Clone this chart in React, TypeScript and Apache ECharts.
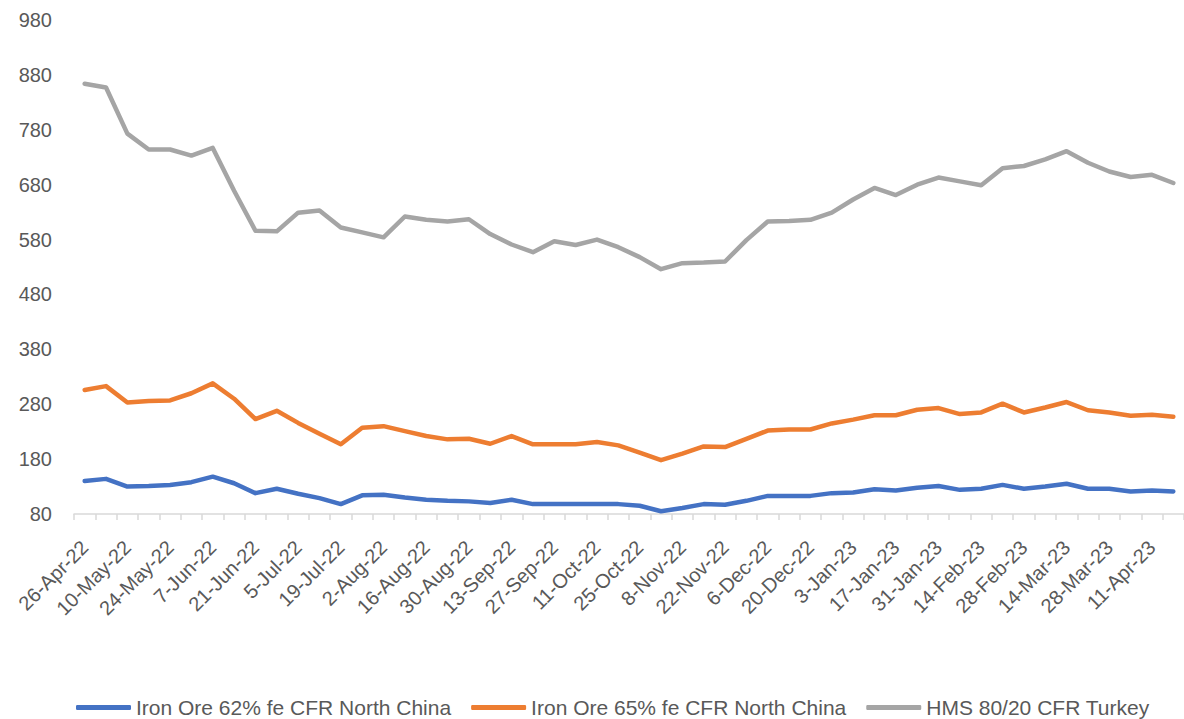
import React, { useEffect, useRef } from "react";
import * as echarts from "echarts";

const categories = [
  "26-Apr-22", "3-May-22", "10-May-22", "17-May-22", "24-May-22", "31-May-22",
  "7-Jun-22", "14-Jun-22", "21-Jun-22", "28-Jun-22", "5-Jul-22", "12-Jul-22",
  "19-Jul-22", "26-Jul-22", "2-Aug-22", "9-Aug-22", "16-Aug-22", "23-Aug-22",
  "30-Aug-22", "6-Sep-22", "13-Sep-22", "20-Sep-22", "27-Sep-22", "4-Oct-22",
  "11-Oct-22", "18-Oct-22", "25-Oct-22", "1-Nov-22", "8-Nov-22", "15-Nov-22",
  "22-Nov-22", "29-Nov-22", "6-Dec-22", "13-Dec-22", "20-Dec-22", "27-Dec-22",
  "3-Jan-23", "10-Jan-23", "17-Jan-23", "24-Jan-23", "31-Jan-23", "7-Feb-23",
  "14-Feb-23", "21-Feb-23", "28-Feb-23", "7-Mar-23", "14-Mar-23", "21-Mar-23",
  "28-Mar-23", "4-Apr-23", "11-Apr-23", "18-Apr-23",
];

const ironOre62 = [
  140, 144, 130, 131, 133, 138, 148, 136, 118, 126, 117, 109,
  98, 114, 115, 110, 106, 104, 103, 100, 106, 98, 98, 98,
  98, 98, 95, 85, 91, 98, 97, 104, 113, 113, 113, 118,
  119, 125, 123, 128, 131, 124, 126, 133, 126, 130, 135, 126,
  126, 121, 123, 121,
];

const ironOre65 = [
  306, 313, 283, 286, 287, 300, 318, 290, 253, 268, 246, 226,
  207, 237, 240, 231, 222, 216, 217, 208, 222, 207, 207, 207,
  211, 205, 192, 178, 190, 203, 202, 217, 232, 234, 234, 245,
  252, 260, 260, 270, 273, 262, 265, 281, 265, 274, 284, 269,
  265, 259, 261, 257,
];

const hmsTurkey = [
  864, 857, 773, 744, 744, 733, 747, 669, 596, 595, 629, 633,
  602, 593, 584, 622, 616, 613, 617, 590, 571, 557, 577, 570,
  580, 566, 548, 526, 537, 538, 540, 579, 613, 614, 616, 629,
  653, 674, 661, 680, 693, 686, 679, 710, 714, 726, 741, 720,
  704, 694, 698, 683,
];

const seriesNames = [
  "Iron Ore 62% fe CFR North China",
  "Iron Ore 65% fe CFR North China",
  "HMS 80/20 CFR Turkey",
];
const seriesColors = ["#4472C4", "#ED7D31", "#A5A5A5"];

export default function App() {
  const ref = useRef<HTMLDivElement>(null);

  useEffect(() => {
    if (!ref.current) return;
    const chart = echarts.init(ref.current, undefined, { renderer: "svg" });
    const font = "'Liberation Sans', Arial, sans-serif";
    const dataSets = [ironOre62, ironOre65, hmsTurkey];
    chart.setOption({
      animation: false,
      backgroundColor: "#ffffff",
      grid: { left: 74, top: 20, width: 1118, height: 494, containLabel: false },
      xAxis: {
        type: "category",
        data: categories,
        boundaryGap: true,
        axisLine: { show: true, lineStyle: { color: "#D9D9D9", width: 1.5 } },
        axisTick: {
          show: true,
          interval: 0,
          length: 6,
          lineStyle: { color: "#D9D9D9", width: 1.5 },
        },
        axisLabel: {
          interval: 1,
          rotate: 45,
          margin: 30,
          color: "#595959",
          fontSize: 20,
          fontFamily: font,
        },
        splitLine: { show: false },
      },
      yAxis: {
        type: "value",
        min: 80,
        max: 980,
        interval: 100,
        axisLine: { show: false },
        axisTick: { show: false },
        splitLine: { show: false },
        axisLabel: {
          margin: 22,
          color: "#595959",
          fontSize: 20,
          fontFamily: font,
        },
      },
      legend: {
        left: 76,
        top: 697,
        padding: 0,
        itemWidth: 55,
        itemHeight: 5,
        itemGap: 20,
        icon: "roundRect",
        textStyle: { color: "#595959", fontSize: 21, fontFamily: font, lineHeight: 21 },
        data: seriesNames,
      },
      series: seriesNames.map((name, i) => ({
        name,
        type: "line",
        data: dataSets[i],
        showSymbol: false,
        symbol: "none",
        color: seriesColors[i],
        lineStyle: { color: seriesColors[i], width: 4.5, cap: "round", join: "round" },
      })),
    });
    return () => chart.dispose();
  }, []);

  return (
    <div
      ref={ref}
      style={{ position: "fixed", left: 0, top: 0, width: 1184, height: 719, background: "#fff" }}
    />
  );
}
